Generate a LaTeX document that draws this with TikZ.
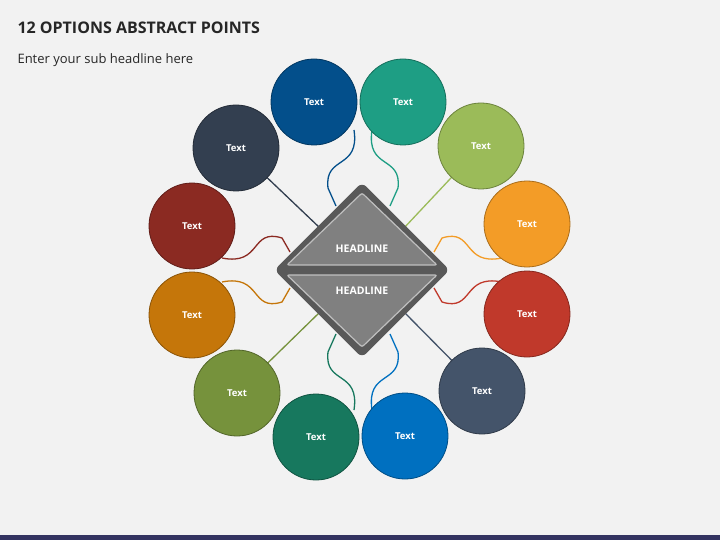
\documentclass[tikz,border=0pt]{standalone}
\usepackage{fontspec}
\setmainfont{Open Sans}
\begin{document}
\begin{tikzpicture}[x=1pt,y=-1pt,
  circ/.style={circle,minimum size=86pt,inner sep=0pt,draw=#1!70!black,line width=0.8pt,fill=#1,text=white,font=\bfseries\fontsize{9.5}{11}\selectfont},
  wire/.style={line width=1.3pt,draw=#1}]
\fill[black!5] (0,0) rectangle (720,540);
\fill[black!70!blue!60!gray] (0,535) rectangle (720,540);
\node[anchor=west,font=\bfseries\fontsize{16}{18}\selectfont,text=black!85] (title) at (14,28) {12 OPTIONS ABSTRACT POINTS};
\node[anchor=west,font=\fontsize{13}{15}\selectfont,text=black!85] (sub) at (14,60) {Enter your sub headline here};
\definecolor{k1}{HTML}{034F8B}\definecolor{k2}{HTML}{1E9E84}\definecolor{k3}{HTML}{9BBB59}
\definecolor{k4}{HTML}{F39C27}\definecolor{k5}{HTML}{C0392B}\definecolor{k6}{HTML}{44546A}
\definecolor{k7}{HTML}{0070C0}\definecolor{k8}{HTML}{17785E}\definecolor{k9}{HTML}{76923C}
\definecolor{k10}{HTML}{C5760A}\definecolor{k11}{HTML}{8B2A22}\definecolor{k12}{HTML}{333F50}
% circles as nodes (drawn after wires via layers order below)
\path (314,102) coordinate (p1) (403,102) coordinate (p2) (481,146) coordinate (p3)
 (527,224) coordinate (p4) (527,314) coordinate (p5) (482,391) coordinate (p6)
 (405,436) coordinate (p7) (316,437) coordinate (p8) (237,393) coordinate (p9)
 (192,315) coordinate (p10) (192,226) coordinate (p11) (236,148) coordinate (p12);
% wires
\draw[wire=k1] (354,130) .. controls (360,170) and (324,155) .. (328,188) -- (336,206);
\draw[wire=k2] (372,130) .. controls (366,170) and (402,155) .. (398,188) -- (390,206);
\draw[wire=k8] (354,410) .. controls (360,370) and (324,385) .. (328,352) -- (336,334);
\draw[wire=k7] (372,410) .. controls (366,370) and (402,385) .. (398,352) -- (390,334);
\draw[wire=k11] (222,258) .. controls (262,266) and (250,228) .. (282,238) -- (290,252);
\draw[wire=k10] (222,282) .. controls (262,274) and (250,312) .. (282,302) -- (290,288);
\draw[wire=k4] (502,258) .. controls (462,266) and (474,228) .. (442,238) -- (434,252);
\draw[wire=k5] (502,282) .. controls (462,274) and (474,312) .. (442,302) -- (434,288);
\draw[wire=k12] (p12) -- (320,228);
\draw[wire=k3] (p3) -- (404,228);
\draw[wire=k9] (p9) -- (320,312);
\draw[wire=k6] (p6) -- (404,312);
% diamond
\node[fill=black!65,rounded corners=6pt,minimum size=124pt,rotate=45,inner sep=0pt] (dia) at (362,270) {};
\filldraw[fill=black!50,draw=black!25,line width=1.2pt,rounded corners=2pt] (287,265) -- (362,193) -- (437,265) -- cycle;
\filldraw[fill=black!50,draw=black!25,line width=1.2pt,rounded corners=2pt] (287,275) -- (362,347) -- (437,275) -- cycle;
\node[text=white,font=\bfseries\fontsize{10.5}{12}\selectfont] (h1) at (362,249) {HEADLINE};
\node[text=white,font=\bfseries\fontsize{10.5}{12}\selectfont] (h2) at (362,291) {HEADLINE};
\foreach \i in {1,...,12}{\node[circ=k\i] (c\i) at (p\i) {Text};}
\end{tikzpicture}
\end{document}
